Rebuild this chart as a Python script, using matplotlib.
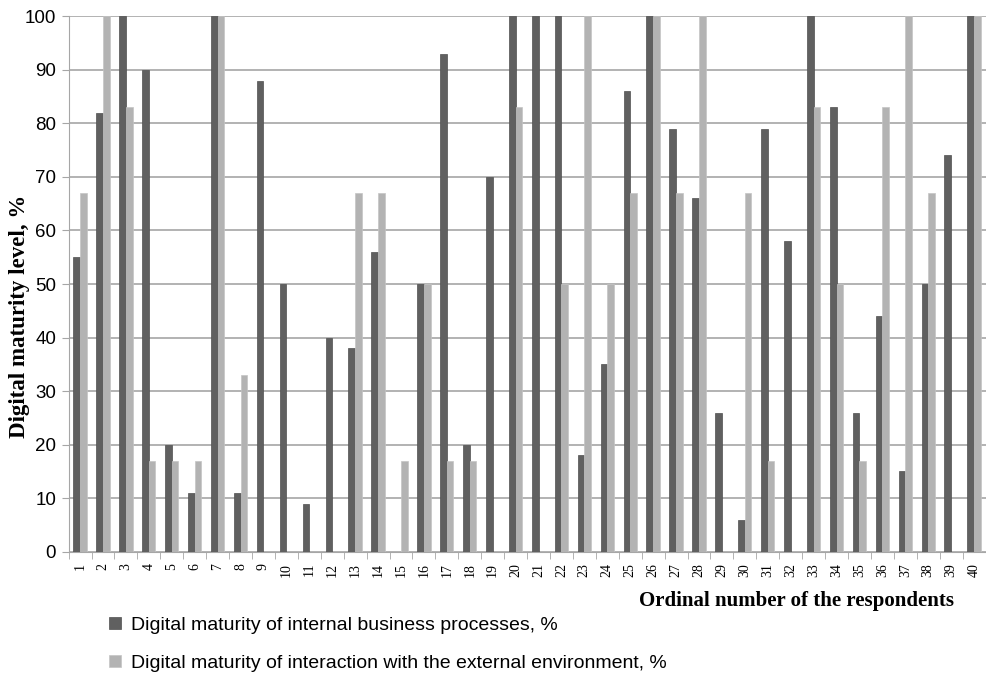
import matplotlib.pyplot as plt
import numpy as np

respondents = [str(i) for i in range(1, 41)]
internal = [55, 82, 100, 90, 20, 11, 100, 11, 88, 50,
            9, 40, 38, 56, 0, 50, 93, 20, 70, 100,
            100, 100, 18, 35, 86, 100, 79, 66, 26, 6,
            79, 58, 100, 83, 26, 44, 15, 50, 74, 100]
external = [67, 100, 83, 17, 17, 17, 100, 33, 0, 0,
            0, 0, 67, 67, 17, 50, 17, 17, 0, 83,
            0, 50, 100, 50, 67, 100, 67, 100, 0, 67,
            17, 0, 83, 50, 17, 83, 100, 67, 0, 100]

dark = "#606060"
light = "#b3b3b3"

fig = plt.figure(figsize=(9.87, 6.77), dpi=100)
ax = fig.add_axes([0.0695, 0.185, 0.929, 0.791])

x = np.arange(len(respondents))
w = 0.29
b1 = ax.bar(x - w / 2, internal, w, color=dark, edgecolor="#505050", linewidth=0.5,
            label="Digital maturity of internal business processes, %", zorder=3)
b2 = ax.bar(x + w / 2, external, w, color=light, edgecolor="#c4c4c4", linewidth=0.5,
            label="Digital maturity of interaction with the external environment, %", zorder=3)

ax.set_xlim(-0.5, len(respondents) - 0.5)
ax.set_ylim(0, 100)
ax.set_yticks(range(0, 101, 10))
ax.yaxis.grid(True, color="#a6a6a6", linewidth=1.2, zorder=0)

ax.set_xticks(x)
ax.set_xticklabels(respondents, rotation=90, family="Liberation Serif", fontsize=10)
ax.set_xticks(np.arange(-0.5, len(respondents), 1), minor=True)
ax.tick_params(axis="x", which="major", length=0, pad=8)
ax.tick_params(axis="x", which="minor", length=5, color="#a6a6a6")
ax.tick_params(axis="y", length=5, color="#a6a6a6", labelsize=13.5, pad=4)
for lab in ax.get_yticklabels():
    lab.set_family("Liberation Sans")

for s in ["top", "right"]:
    ax.spines[s].set_visible(False)
ax.spines["left"].set_color("#a6a6a6")
ax.spines["bottom"].set_color("#a6a6a6")

fig.text(20 / 987, 1 - 316 / 677, "Digital maturity level, %", family="Liberation Serif",
         fontweight="bold", fontsize=16.5, rotation=90, ha="center", va="center")
fig.text(0.967, 0.112, "Ordinal number of the respondents", family="Liberation Serif",
         fontweight="bold", fontsize=15, ha="right", va="center")

fig.legend(handles=[b1, b2], loc="upper left", bbox_to_anchor=(0.093, 0.115),
           frameon=False, labelspacing=1.1, handlelength=0.6,
           handleheight=0.6, handletextpad=0.5,
           prop={"family": "Liberation Sans", "size": 14})

fig.savefig("out.png", dpi=100)
